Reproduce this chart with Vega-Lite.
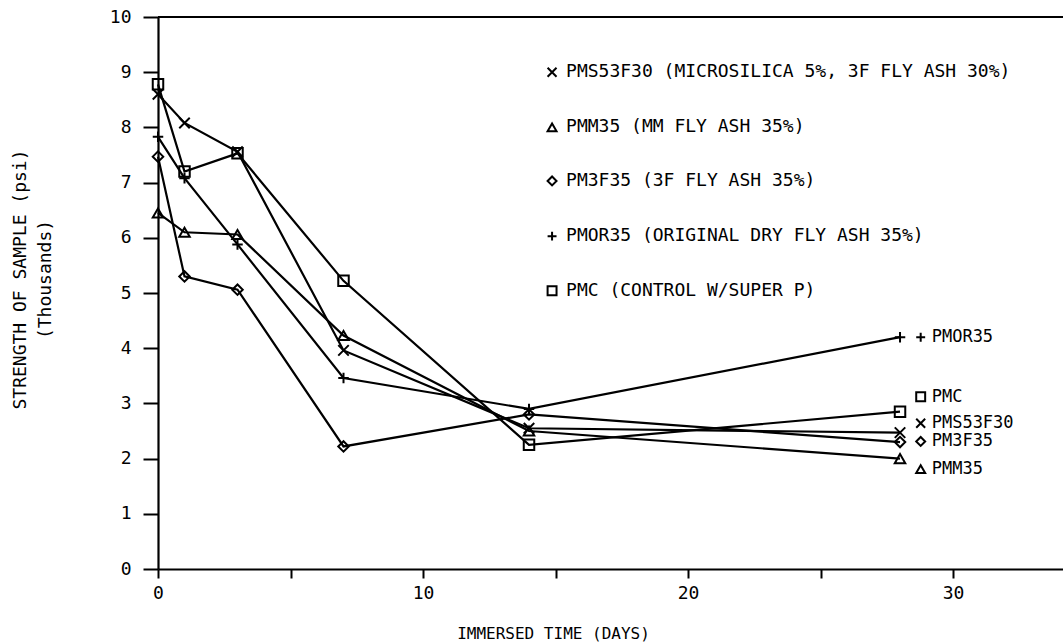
{
  "$schema": "https://vega.github.io/schema/vega-lite/v6.json",
  "width": 905,
  "height": 552,
  "autosize": {"type": "none"},
  "padding": {"left": 158, "top": 17, "right": 0, "bottom": 75},
  "background": "white",
  "config": {"view": {"stroke": null}, "font": "DejaVu Sans Mono"},
  "datasets": {
    "series": [
      {"series": "PMC", "day": 0, "strength": 8.78},
      {"series": "PMC", "day": 1, "strength": 7.2},
      {"series": "PMC", "day": 3, "strength": 7.53},
      {"series": "PMC", "day": 7, "strength": 5.22},
      {"series": "PMC", "day": 14, "strength": 2.25},
      {"series": "PMC", "day": 28, "strength": 2.85},
      {"series": "PMS53F30", "day": 0, "strength": 8.6},
      {"series": "PMS53F30", "day": 1, "strength": 8.08},
      {"series": "PMS53F30", "day": 3, "strength": 7.56},
      {"series": "PMS53F30", "day": 7, "strength": 3.96},
      {"series": "PMS53F30", "day": 14, "strength": 2.55},
      {"series": "PMS53F30", "day": 28, "strength": 2.47},
      {"series": "PMM35", "day": 0, "strength": 6.45},
      {"series": "PMM35", "day": 1, "strength": 6.1},
      {"series": "PMM35", "day": 3, "strength": 6.06},
      {"series": "PMM35", "day": 7, "strength": 4.23},
      {"series": "PMM35", "day": 14, "strength": 2.5},
      {"series": "PMM35", "day": 28, "strength": 2.0},
      {"series": "PM3F35", "day": 0, "strength": 7.47},
      {"series": "PM3F35", "day": 1, "strength": 5.3},
      {"series": "PM3F35", "day": 3, "strength": 5.06},
      {"series": "PM3F35", "day": 7, "strength": 2.22},
      {"series": "PM3F35", "day": 14, "strength": 2.8},
      {"series": "PM3F35", "day": 28, "strength": 2.3},
      {"series": "PMOR35", "day": 0, "strength": 7.83},
      {"series": "PMOR35", "day": 1, "strength": 7.08},
      {"series": "PMOR35", "day": 3, "strength": 5.88},
      {"series": "PMOR35", "day": 7, "strength": 3.46},
      {"series": "PMOR35", "day": 14, "strength": 2.9},
      {"series": "PMOR35", "day": 28, "strength": 4.2}
    ],
    "labels": [
      {"series": "PMS53F30", "group": "key", "lx": 14.87, "ly": 9.0, "label": "PMS53F30 (MICROSILICA 5%, 3F FLY ASH 30%)"},
      {"series": "PMM35", "group": "key", "lx": 14.87, "ly": 8.0, "label": "PMM35 (MM FLY ASH 35%)"},
      {"series": "PM3F35", "group": "key", "lx": 14.87, "ly": 7.03, "label": "PM3F35 (3F FLY ASH 35%)"},
      {"series": "PMOR35", "group": "key", "lx": 14.87, "ly": 6.03, "label": "PMOR35 (ORIGINAL DRY FLY ASH 35%)"},
      {"series": "PMC", "group": "key", "lx": 14.87, "ly": 5.04, "label": "PMC (CONTROL W/SUPER P)"},
      {"series": "PMOR35", "group": "end", "lx": 28.78, "ly": 4.2, "label": "PMOR35"},
      {"series": "PMC", "group": "end", "lx": 28.78, "ly": 3.12, "label": "PMC"},
      {"series": "PMS53F30", "group": "end", "lx": 28.78, "ly": 2.64, "label": "PMS53F30"},
      {"series": "PM3F35", "group": "end", "lx": 28.78, "ly": 2.31, "label": "PM3F35"},
      {"series": "PMM35", "group": "end", "lx": 28.78, "ly": 1.81, "label": "PMM35"}
    ]
  },
  "layer": [
    {
      "data": {"name": "series"},
      "mark": {"type": "line", "color": "black", "strokeWidth": 2.2},
      "encoding": {
        "x": {
          "field": "day", "type": "quantitative",
          "scale": {"domain": [0, 34.15], "nice": false, "zero": false},
          "axis": {
            "values": [0, 5, 10, 15, 20, 25, 30],
            "labelExpr": "datum.value % 10 == 0 ? datum.label : ''",
            "tickSize": 9, "tickWidth": 2, "tickColor": "black",
            "domainColor": "black", "domainWidth": 2.2,
            "labelFont": "DejaVu Sans Mono", "labelFontSize": 18, "labelColor": "black",
            "labelPadding": 6, "labelFlush": false, "labelOverlap": false, "grid": false,
            "title": "IMMERSED TIME (DAYS)",
            "titleFont": "DejaVu Sans Mono", "titleFontWeight": "normal", "titleFontSize": 16, "titleColor": "black",
            "titleX": 395, "titleY": 64, "titleBaseline": "middle", "titleAlign": "center"
          }
        },
        "y": {
          "field": "strength", "type": "quantitative",
          "scale": {"domain": [0, 10], "nice": false},
          "axis": {
            "values": [0, 1, 2, 3, 4, 5, 6, 7, 8, 9, 10],
            "tickSize": 15, "tickWidth": 2, "tickColor": "black",
            "domainColor": "black", "domainWidth": 2.2,
            "labelFont": "DejaVu Sans Mono", "labelFontSize": 18, "labelColor": "black",
            "labelPadding": 12, "labelFlush": false, "labelOverlap": false, "grid": false,
            "title": ["STRENGTH OF SAMPLE (psi)", "(Thousands)"],
            "titleFont": "DejaVu Sans Mono", "titleFontWeight": "normal", "titleFontSize": 18, "titleColor": "black",
            "titleAngle": -90, "titleX": -138, "titleY": 262, "titleAlign": "center", "titleBaseline": "middle",
            "titleLineHeight": 25
          }
        },
        "detail": {"field": "series"}
      }
    },
    {
      "data": {"values": [{"top": 10}]},
      "mark": {"type": "rule", "color": "black", "strokeWidth": 2.2},
      "encoding": {
        "y": {"field": "top", "type": "quantitative"}
      }
    },
    {
      "data": {"name": "series"},
      "mark": {"type": "point", "filled": false, "color": "black", "strokeWidth": 2, "opacity": 1, "size": 110},
      "encoding": {
        "x": {"field": "day", "type": "quantitative"},
        "y": {"field": "strength", "type": "quantitative"},
        "shape": {
          "field": "series", "type": "nominal",
          "scale": {
            "domain": ["PMC", "PMS53F30", "PMM35", "PM3F35", "PMOR35"],
            "range": ["square", "M-1,-1L1,1M-1,1L1,-1", "triangle-up", "diamond", "M-1,0L1,0M0,-1L0,1"]
          },
          "legend": null
        }
      }
    },
    {
      "data": {"name": "labels"},
      "mark": {"type": "point", "filled": false, "color": "black", "strokeWidth": 2, "opacity": 1, "size": 80},
      "encoding": {
        "x": {"field": "lx", "type": "quantitative"},
        "y": {"field": "ly", "type": "quantitative"},
        "shape": {"field": "series", "type": "nominal", "legend": null}
      }
    },
    {
      "data": {"name": "labels"},
      "transform": [{"filter": "datum.group == 'key'"}],
      "mark": {"type": "text", "align": "left", "baseline": "middle", "dx": 14, "font": "DejaVu Sans Mono", "fontSize": 18, "color": "black"},
      "encoding": {
        "x": {"field": "lx", "type": "quantitative"},
        "y": {"field": "ly", "type": "quantitative"},
        "text": {"field": "label"}
      }
    },
    {
      "data": {"name": "labels"},
      "transform": [{"filter": "datum.group == 'end'"}],
      "mark": {"type": "text", "align": "left", "baseline": "middle", "dx": 11, "font": "DejaVu Sans Mono", "fontSize": 17, "color": "black"},
      "encoding": {
        "x": {"field": "lx", "type": "quantitative"},
        "y": {"field": "ly", "type": "quantitative"},
        "text": {"field": "label"}
      }
    }
  ]
}
